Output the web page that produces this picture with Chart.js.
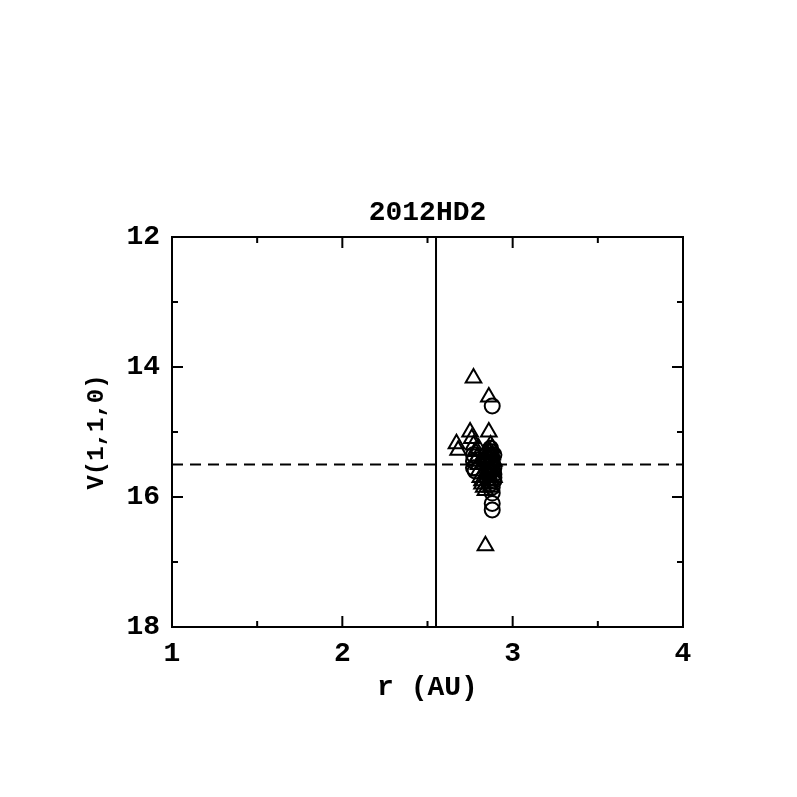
<!DOCTYPE html>
<html>
<head>
<meta charset="utf-8">
<script src="https://cdn.jsdelivr.net/npm/chart.js@4"></script>
<style>
html,body{margin:0;padding:0;background:#fff;}
#wrap{width:797px;height:797px;}
</style>
</head>
<body>
<div id="wrap"><canvas id="c" width="797" height="797"></canvas></div>
<script>
const chartTitle = "2012HD2";
const xLabel = "r (AU)";
const yLabel = "V(1,1,0)";
const xTicks = [1, 2, 3, 4];
const yTicks = [12, 14, 16, 18];
const xMinorTicks = [1.5, 2.5, 3.5];
const yMinorTicks = [13, 15, 17];

// triangles
const triR = [2.77, 2.86, 2.86, 2.75, 2.76, 2.77, 2.67, 2.68, 2.78, 2.79, 2.80, 2.80, 2.81, 2.82, 2.82, 2.83, 2.84, 2.85, 2.85, 2.86, 2.84, 2.87, 2.88, 2.88, 2.89, 2.78, 2.80, 2.83, 2.86, 2.87, 2.84, 2.85, 2.86, 2.87, 2.88, 2.89, 2.85, 2.86, 2.87, 2.88];
const triV = [14.17, 14.46, 15.00, 15.00, 15.10, 15.20, 15.18, 15.28, 15.30, 15.40, 15.50, 15.60, 15.70, 15.75, 15.80, 15.85, 15.90, 15.50, 15.60, 15.30, 16.75, 15.40, 15.50, 15.60, 15.70, 15.45, 15.25, 15.35, 15.80, 15.20, 15.45, 15.35, 15.65, 15.55, 15.35, 15.45, 15.70, 15.75, 15.85, 15.25];
// circles
const cirR = [2.88, 2.88, 2.88, 2.88, 2.77, 2.77, 2.77, 2.78, 2.87, 2.87, 2.88, 2.88, 2.89, 2.89, 2.88, 2.87, 2.88, 2.89, 2.86, 2.87, 2.88, 2.89, 2.88, 2.87, 2.89];
const cirV = [14.60, 15.94, 16.10, 16.20, 15.35, 15.45, 15.55, 15.60, 15.25, 15.35, 15.45, 15.55, 15.65, 15.75, 15.85, 15.30, 15.50, 15.70, 15.60, 15.80, 15.40, 15.35, 15.60, 15.50, 15.55];

// reference lines
const vLineR = 2.55;
const hLineV = 15.5;

const fontFam = "'Liberation Mono', 'DejaVu Sans Mono', monospace";

const tri = triR.map((r, i) => ({x: r, y: triV[i]}));
const cir = cirR.map((r, i) => ({x: r, y: cirV[i]}));

const framePlugin = {
  id: 'frame',
  afterDatasetsDraw(chart) {
    const {ctx, chartArea: a, scales: {x, y}} = chart;
    ctx.save();
    ctx.strokeStyle = '#000';
    ctx.lineWidth = 2;
    ctx.strokeRect(a.left, a.top, a.right - a.left, a.bottom - a.top);
    ctx.beginPath();
    const maj = 11, mnr = 6;
    xTicks.forEach(v => { const p = x.getPixelForValue(v);
      ctx.moveTo(p, a.bottom); ctx.lineTo(p, a.bottom - maj);
      ctx.moveTo(p, a.top); ctx.lineTo(p, a.top + maj); });
    xMinorTicks.forEach(v => { const p = x.getPixelForValue(v);
      ctx.moveTo(p, a.bottom); ctx.lineTo(p, a.bottom - mnr);
      ctx.moveTo(p, a.top); ctx.lineTo(p, a.top + mnr); });
    yTicks.forEach(v => { const p = y.getPixelForValue(v);
      ctx.moveTo(a.left, p); ctx.lineTo(a.left + maj, p);
      ctx.moveTo(a.right, p); ctx.lineTo(a.right - maj, p); });
    yMinorTicks.forEach(v => { const p = y.getPixelForValue(v);
      ctx.moveTo(a.left, p); ctx.lineTo(a.left + mnr, p);
      ctx.moveTo(a.right, p); ctx.lineTo(a.right - mnr, p); });
    ctx.stroke();
    // title centred over the plot box
    ctx.fillStyle = '#000';
    ctx.font = "bold 28px " + fontFam;
    ctx.textAlign = 'center';
    ctx.textBaseline = 'middle';
    ctx.fillText(chartTitle, (a.left + a.right) / 2, a.top - 24);
    ctx.restore();
  }
};

new Chart(document.getElementById('c'), {
  type: 'scatter',
  data: {
    datasets: [
      {
        type: 'line', data: [{x: vLineR, y: 12}, {x: vLineR, y: 18}],
        borderColor: '#000', borderWidth: 2, pointRadius: 0, fill: false
      },
      {
        type: 'line', data: [{x: 1, y: hLineV}, {x: 4, y: hLineV}],
        borderColor: '#000', borderWidth: 2, borderDash: [11, 7], pointRadius: 0, fill: false
      },
      {
        data: tri, pointStyle: 'triangle', pointRadius: 9,
        backgroundColor: 'rgba(0,0,0,0)', borderColor: '#000', borderWidth: 2
      },
      {
        data: cir, pointStyle: 'circle', pointRadius: 7.5,
        backgroundColor: 'rgba(0,0,0,0)', borderColor: '#000', borderWidth: 2
      }
    ]
  },
  options: {
    responsive: false,
    animation: false,
    events: [],
    layout: {padding: {left: 75, right: 114, top: 237, bottom: 90}},
    plugins: {
      legend: {display: false},
      tooltip: {enabled: false},
      title: {display: false}
    },
    scales: {
      x: {
        type: 'linear', min: 1, max: 4,
        afterFit(s) { s.height = 80; },
        afterBuildTicks(s) { s.ticks = xTicks.map(v => ({value: v})); },
        grid: {display: false, drawTicks: false},
        border: {display: false},
        ticks: {color: '#000', padding: 10, maxRotation: 0,
          font: {family: fontFam, size: 28, weight: 'bold'}},
        title: {display: true, text: xLabel, color: '#000',
          font: {family: fontFam, size: 28, weight: 'bold', lineHeight: 1.2}, padding: {top: 0, bottom: 2}}
      },
      y: {
        type: 'linear', min: 12, max: 18, reverse: true,
        afterFit(s) { s.width = 172 - 75; },
        afterBuildTicks(s) { s.ticks = yTicks.map(v => ({value: v})); },
        grid: {display: false, drawTicks: false},
        border: {display: false},
        ticks: {color: '#000', padding: 12,
          font: {family: fontFam, size: 28, weight: 'bold'}},
        title: {display: true, text: yLabel, color: '#000',
          font: {family: fontFam, size: 24, weight: 'bold', lineHeight: 1.2}, padding: {top: 8, bottom: 0}}
      }
    }
  },
  plugins: [framePlugin]
});
</script>
</body>
</html>
